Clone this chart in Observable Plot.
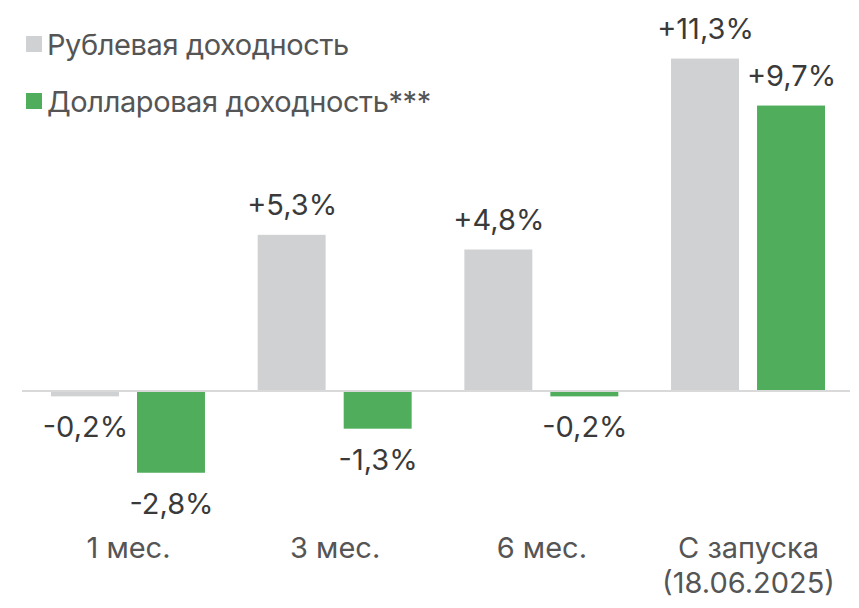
<!DOCTYPE html>
<html><head><meta charset="utf-8">
<script src="https://cdn.jsdelivr.net/npm/d3@7"></script>
<script src="https://cdn.jsdelivr.net/npm/@observablehq/plot@0.6"></script>
<style>
body{margin:0;background:#fff;font-family:Inter, "Noto Sans", sans-serif;}
#wrap{position:relative;width:859px;height:608px;overflow:hidden;}
.lg{position:absolute;left:26px;display:flex;align-items:center;height:30px;font-size:29px;color:#555;white-space:nowrap;letter-spacing:-0.4px;}
.lg span.sw{display:inline-block;width:16px;height:16px;margin-right:5px;}
</style></head><body><div id="wrap"></div>
<script>
const categories = ["1 мес.", "3 мес.", "6 мес.", "С запуска\n(18.06.2025)"];
const seriesNames = ["Рублевая доходность", "Долларовая доходность***"];
const rubValues = [-0.2, 5.3, 4.8, 11.3];
const usdValues = [-2.8, -1.3, -0.2, 9.7];
const colors = ["#d0d1d3", "#4fad5b"];

const data = categories.flatMap((c, i) => [
  {cat: c, series: seriesNames[0], value: rubValues[i]},
  {cat: c, series: seriesNames[1], value: usdValues[i]}
]);
const fmt = v => (v > 0 ? "+" : "") + v.toFixed(1).replace(".", ",") + "%";

const chart = Plot.plot({
  width: 859, height: 608,
  marginLeft: 51, marginRight: 34, marginTop: 38, marginBottom: 100,
  fx: {domain: categories, paddingInner: 0.255, paddingOuter: 0, round: false, axis: null},
  x: {domain: seriesNames, paddingInner: 0.21, paddingOuter: 0, round: false, axis: null},
  y: {domain: [-4, 12], axis: null},
  color: {domain: seriesNames, range: colors},
  style: {fontFamily: "Inter, 'Noto Sans', sans-serif", background: "#fff"},
  marks: [
    Plot.barY(data, {fx: "cat", x: "series", y: "value", fill: "series"}),
    Plot.ruleY([0], {stroke: "#d9d9d9", strokeWidth: 2, insetLeft: -29, insetRight: -25}),
    Plot.text(data.filter(d => d.value > 0), {fx: "cat", x: "series", y: "value", text: d => fmt(d.value), lineAnchor: "bottom", dy: -20, fontSize: 29, fill: "#3a3a3a"}),
    Plot.text(data.filter(d => d.value < 0), {fx: "cat", x: "series", y: "value", text: d => fmt(d.value), lineAnchor: "top", dy: 20, fontSize: 29, fill: "#3a3a3a"}),
    Plot.text(categories, {fx: d => d, text: d => d, frameAnchor: "bottom", lineAnchor: "top", dy: 25, fontSize: 29, lineHeight: 1.2, fill: "#555"})
  ]
});
const wrap = document.getElementById("wrap");
wrap.appendChild(chart);
const tops = [29, 86];
seriesNames.forEach((s, i) => {
  const d = document.createElement("div");
  d.className = "lg";
  d.style.top = tops[i] + "px";
  d.innerHTML = `<span class="sw" style="background:${colors[i]}"></span>${s}`;
  wrap.appendChild(d);
});
</script></body></html>
